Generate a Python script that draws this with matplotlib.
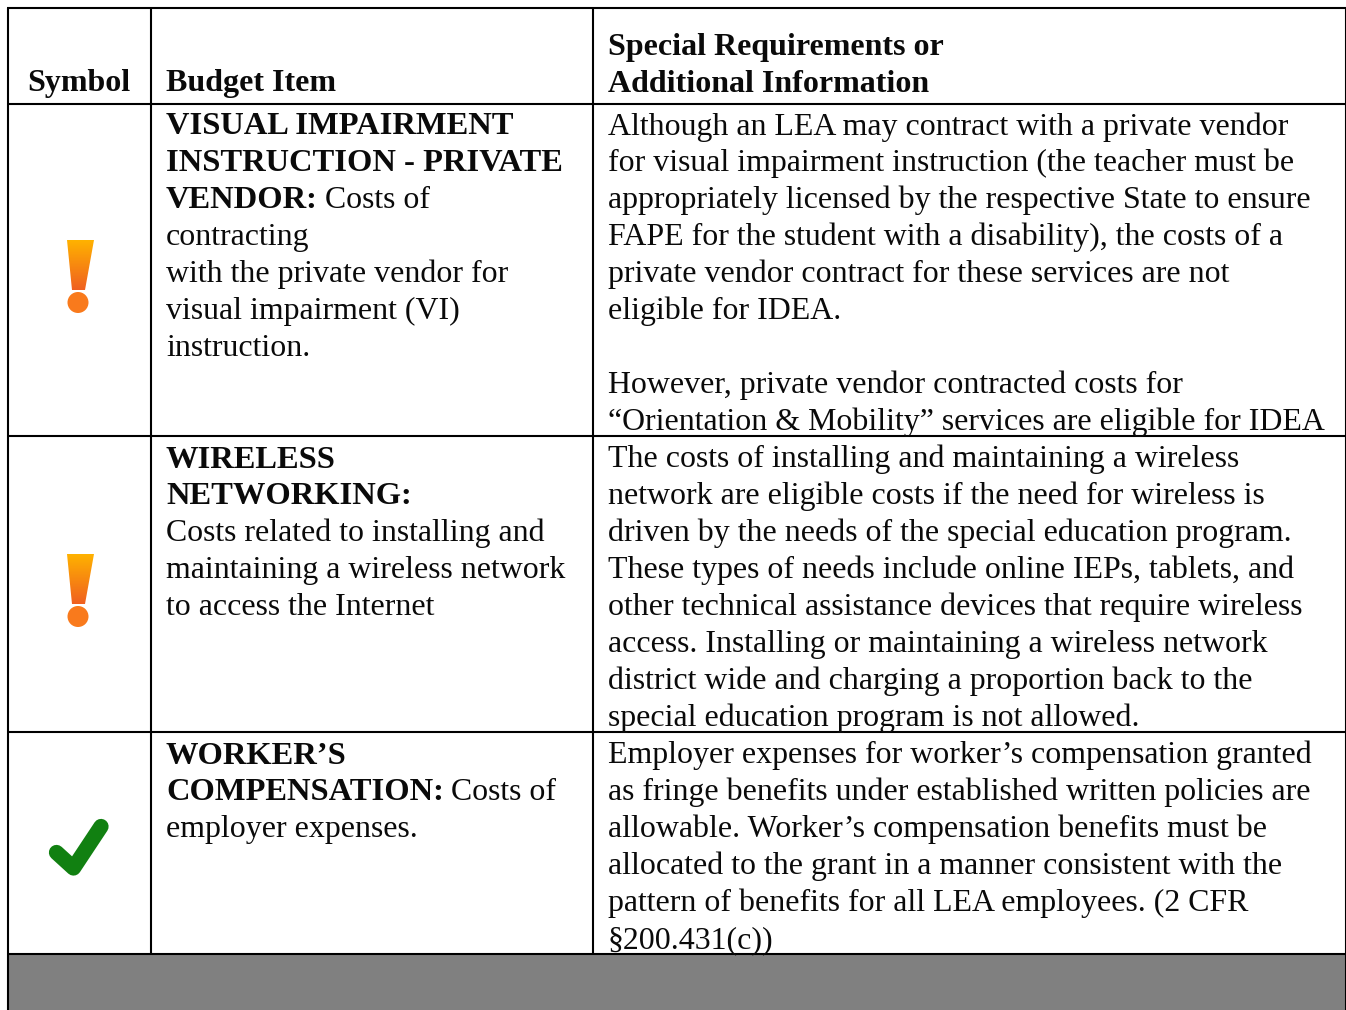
import matplotlib
matplotlib.use("Agg")
import matplotlib.pyplot as plt
import numpy as np
from matplotlib.patches import Polygon, Circle, Rectangle

W, H = 1346, 1010
FS = 22.95
FS_BOLD = 23.4
FS_HEAD = 23.0
GAP = 7.0

headers_symbol = ["Symbol"]
headers_item = ["Budget Item"]
headers_info = ["Special Requirements or", "Additional Information"]

# each line: list of (text, bold)
item_rows = [
    [[("VISUAL IMPAIRMENT", True)],
     [("INSTRUCTION - PRIVATE", True)],
     [("VENDOR:", True), ("Costs of", False)],
     [("contracting", False)],
     [("with the private vendor for", False)],
     [("visual impairment (VI)", False)],
     [("instruction.", False)]],
    [[("WIRELESS", True)],
     [("NETWORKING:", True)],
     [("Costs related to installing and", False)],
     [("maintaining a wireless network", False)],
     [("to access the Internet", False)]],
    [[("WORKER’S", True)],
     [("COMPENSATION:", True), ("Costs of", False)],
     [("employer expenses.", False)]],
]
info_rows = [
    ["Although an LEA may contract with a private vendor",
     "for visual impairment instruction (the teacher must be",
     "appropriately licensed by the respective State to ensure",
     "FAPE for the student with a disability), the costs of a",
     "private vendor contract for these services are not",
     "eligible for IDEA.",
     "",
     "However, private vendor contracted costs for",
     "“Orientation & Mobility” services are eligible for IDEA"],
    ["The costs of installing and maintaining a wireless",
     "network are eligible costs if the need for wireless is",
     "driven by the needs of the special education program.",
     "These types of needs include online IEPs, tablets, and",
     "other technical assistance devices that require wireless",
     "access. Installing or maintaining a wireless network",
     "district wide and charging a proportion back to the",
     "special education program is not allowed."],
    ["Employer expenses for worker’s compensation granted",
     "as fringe benefits under established written policies are",
     "allowable. Worker’s compensation benefits must be",
     "allocated to the grant in a manner consistent with the",
     "pattern of benefits for all LEA employees. (2 CFR",
     "§200.431(c))"],
]
row_first_baselines = [134.5, 467.5, 763.5]
row_symbols = ["warn", "warn", "check"]
symbol_offsets = [0, 314, 0]
hlines_y = [8, 104, 436, 732, 954]
vlines_x = [8, 151, 593, 1346]

fig = plt.figure(figsize=(W / 100, H / 100), dpi=100, facecolor="white")
ax = fig.add_axes([0, 0, 1, 1])
ax.set_xlim(0, W)
ax.set_ylim(H, 0)
ax.axis("off")

font = dict(family="Liberation Serif", color="#0a0a0a", va="baseline", ha="left")

ax.add_patch(Rectangle((vlines_x[0], hlines_y[-1]), vlines_x[-1] - vlines_x[0], H - hlines_y[-1],
                       facecolor="#808080", edgecolor="none", zorder=0))
for y in hlines_y:
    ax.plot([vlines_x[0] - 1, vlines_x[-1] + 1], [y, y], color="black", lw=1.5, solid_capstyle="butt", zorder=3)
for x in vlines_x:
    bottom = H if x in (vlines_x[0], vlines_x[-1]) else hlines_y[-1]
    ax.plot([x, x], [hlines_y[0], bottom], color="black", lw=1.5, solid_capstyle="butt", zorder=3)

ax.text(27, 91.5, headers_symbol[0], fontweight="bold", fontsize=FS_HEAD, **font)
ax.text(166, 91.5, headers_item[0], fontweight="bold", fontsize=FS_HEAD, **font)
ax.text(608, 54.5, headers_info[0], fontweight="bold", fontsize=FS_HEAD, **font)
ax.text(608, 91.5, headers_info[1], fontweight="bold", fontsize=FS_HEAD, **font)

renderer = fig.canvas.get_renderer()
LINE = 36.95
for base, lines in zip(row_first_baselines, item_rows):
    for i, segs in enumerate(lines):
        x = 166
        for txt, bold in segs:
            t = ax.text(x, base + i * LINE, txt, fontweight="bold" if bold else "normal",
                        fontsize=FS_BOLD if bold else FS, **font)
            x = t.get_window_extent(renderer).x1 + GAP
for base, lines in zip(row_first_baselines, info_rows):
    for i, line in enumerate(lines):
        if line:
            ax.text(608, base + i * LINE, line, fontsize=FS, **font)


def draw_warn(dy):
    poly = Polygon([(67, 240 + dy), (94, 240 + dy), (85, 290 + dy), (72, 290 + dy)],
                   closed=True, transform=ax.transData, facecolor="none", edgecolor="none")
    ax.add_patch(poly)
    grad = np.linspace(0, 1, 64)[:, None]
    c0, c1 = np.array([255, 178, 0]) / 255, np.array([240, 96, 32]) / 255
    img = (c0[None, None, :] * (1 - grad[..., None]) + c1[None, None, :] * grad[..., None])
    im = ax.imshow(img, extent=(67, 94, 290 + dy, 240 + dy), aspect="auto", zorder=2)
    im.set_clip_path(poly)
    ax.add_patch(Circle((78, 302.5 + dy), 10.5, facecolor="#F97A1C", edgecolor="none", zorder=2))


def draw_check():
    ax.plot([56.5, 73.5, 101], [852.5, 868, 826.5], color="#118011", lw=11,
            solid_capstyle="round", solid_joinstyle="round", zorder=2)


for sym, off in zip(row_symbols, symbol_offsets):
    if sym == "warn":
        draw_warn(off)
    else:
        draw_check()

ax.set_xlim(0, W)
ax.set_ylim(H, 0)
fig.savefig("out.png", dpi=100, facecolor="white")
